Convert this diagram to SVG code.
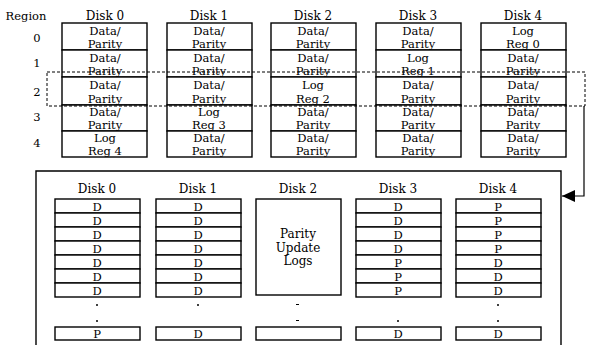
<svg xmlns="http://www.w3.org/2000/svg" width="589" height="345" viewBox="0 0 589 345" font-family="'DejaVu Serif','Liberation Serif',serif">
<defs>
<style>
text{font-family:'DejaVu Serif','Liberation Serif',serif;fill:#000;text-anchor:middle}
.t{font-size:12px}
.c{font-size:11.5px}
.s{font-size:11.5px}
.cell{fill:#fff;stroke:#000;stroke-width:1.4}
.box{fill:none;stroke:#000;stroke-width:1.4}
.dash{fill:none;stroke:#000;stroke-width:1;stroke-dasharray:3 2}
.conn{fill:none;stroke:#000;stroke-width:1.2}
</style>
<marker id="ah" markerWidth="14" markerHeight="12" refX="13" refY="6" orient="auto" markerUnits="userSpaceOnUse">
<path d="M0,0 L13,6 L0,12 Z" fill="#000"/>
</marker>
</defs>
<rect width="589" height="345" fill="#fff"/>

<g id="labels">
<text x="26" y="20" class="s">Region</text>
<text x="37" y="42" class="s">0</text>
<text x="37" y="67" class="s">1</text>
<text x="37" y="96" class="s">2</text>
<text x="37" y="121" class="s">3</text>
<text x="37" y="147" class="s">4</text>
</g>

<g id="top-disk0">
<text x="105" y="20" class="t">Disk 0</text>
<rect class="cell" x="62" y="23" width="85" height="27"/>
<rect class="cell" x="62" y="50" width="85" height="27"/>
<rect class="cell" x="62" y="77" width="85" height="28"/>
<rect class="cell" x="62" y="105" width="85" height="26"/>
<rect class="cell" x="62" y="131" width="85" height="26"/>
<text x="105" y="35" class="c">Data/</text><text x="105" y="48" class="c">Parity</text>
<text x="105" y="62" class="c">Data/</text><text x="105" y="75" class="c">Parity</text>
<text x="105" y="89" class="c">Data/</text><text x="105" y="103" class="c">Parity</text>
<text x="105" y="116" class="c">Data/</text><text x="105" y="129" class="c">Parity</text>
<text x="105" y="142" class="c">Log</text><text x="105" y="155" class="c">Reg 4</text>
</g>

<g id="top-disk1">
<text x="209" y="20" class="t">Disk 1</text>
<rect class="cell" x="167" y="23" width="85" height="27"/>
<rect class="cell" x="167" y="50" width="85" height="27"/>
<rect class="cell" x="167" y="77" width="85" height="28"/>
<rect class="cell" x="167" y="105" width="85" height="26"/>
<rect class="cell" x="167" y="131" width="85" height="26"/>
<text x="209" y="35" class="c">Data/</text><text x="209" y="48" class="c">Parity</text>
<text x="209" y="62" class="c">Data/</text><text x="209" y="75" class="c">Parity</text>
<text x="209" y="89" class="c">Data/</text><text x="209" y="103" class="c">Parity</text>
<text x="209" y="116" class="c">Log</text><text x="209" y="129" class="c">Reg 3</text>
<text x="209" y="142" class="c">Data/</text><text x="209" y="155" class="c">Parity</text>
</g>

<g id="top-disk2">
<text x="313" y="20" class="t">Disk 2</text>
<rect class="cell" x="271" y="23" width="85" height="27"/>
<rect class="cell" x="271" y="50" width="85" height="27"/>
<rect class="cell" x="271" y="77" width="85" height="28"/>
<rect class="cell" x="271" y="105" width="85" height="26"/>
<rect class="cell" x="271" y="131" width="85" height="26"/>
<text x="313" y="35" class="c">Data/</text><text x="313" y="48" class="c">Parity</text>
<text x="313" y="62" class="c">Data/</text><text x="313" y="75" class="c">Parity</text>
<text x="313" y="89" class="c">Log</text><text x="313" y="103" class="c">Reg 2</text>
<text x="313" y="116" class="c">Data/</text><text x="313" y="129" class="c">Parity</text>
<text x="313" y="142" class="c">Data/</text><text x="313" y="155" class="c">Parity</text>
</g>

<g id="top-disk3">
<text x="418" y="20" class="t">Disk 3</text>
<rect class="cell" x="376" y="23" width="85" height="27"/>
<rect class="cell" x="376" y="50" width="85" height="27"/>
<rect class="cell" x="376" y="77" width="85" height="28"/>
<rect class="cell" x="376" y="105" width="85" height="26"/>
<rect class="cell" x="376" y="131" width="85" height="26"/>
<text x="418" y="35" class="c">Data/</text><text x="418" y="48" class="c">Parity</text>
<text x="418" y="62" class="c">Log</text><text x="418" y="75" class="c">Reg 1</text>
<text x="418" y="89" class="c">Data/</text><text x="418" y="103" class="c">Parity</text>
<text x="418" y="116" class="c">Data/</text><text x="418" y="129" class="c">Parity</text>
<text x="418" y="142" class="c">Data/</text><text x="418" y="155" class="c">Parity</text>
</g>

<g id="top-disk4">
<text x="523" y="20" class="t">Disk 4</text>
<rect class="cell" x="481" y="23" width="85" height="27"/>
<rect class="cell" x="481" y="50" width="85" height="27"/>
<rect class="cell" x="481" y="77" width="85" height="28"/>
<rect class="cell" x="481" y="105" width="85" height="26"/>
<rect class="cell" x="481" y="131" width="85" height="26"/>
<text x="523" y="35" class="c">Log</text><text x="523" y="48" class="c">Reg 0</text>
<text x="523" y="62" class="c">Data/</text><text x="523" y="75" class="c">Parity</text>
<text x="523" y="89" class="c">Data/</text><text x="523" y="103" class="c">Parity</text>
<text x="523" y="116" class="c">Data/</text><text x="523" y="129" class="c">Parity</text>
<text x="523" y="142" class="c">Data/</text><text x="523" y="155" class="c">Parity</text>
</g>

<g id="selection">
<rect class="dash" x="47" y="72" width="538" height="34"/>
</g>

<g id="bottom-frame">
<path class="box" d="M36,350 L36,171 L561,171 L561,350"/>
</g>

<g id="bottom-disk0">
<text x="97" y="193" class="t">Disk 0</text>
<rect class="cell" x="55" y="199" width="85" height="14"/>
<rect class="cell" x="55" y="213" width="85" height="14"/>
<rect class="cell" x="55" y="227" width="85" height="14"/>
<rect class="cell" x="55" y="241" width="85" height="14"/>
<rect class="cell" x="55" y="255" width="85" height="14"/>
<rect class="cell" x="55" y="269" width="85" height="14"/>
<rect class="cell" x="55" y="283" width="85" height="14"/>
<text x="97" y="211" class="c">D</text><text x="97" y="225" class="c">D</text><text x="97" y="239" class="c">D</text><text x="97" y="253" class="c">D</text><text x="97" y="267" class="c">D</text><text x="97" y="281" class="c">D</text><text x="97" y="295" class="c">D</text>
<circle cx="97" cy="305" r="1"/><circle cx="97" cy="321" r="1"/>
<rect class="cell" x="55" y="327" width="85" height="13"/>
<text x="97" y="338" class="c">P</text>
</g>

<g id="bottom-disk1">
<text x="198" y="193" class="t">Disk 1</text>
<rect class="cell" x="156" y="199" width="85" height="14"/>
<rect class="cell" x="156" y="213" width="85" height="14"/>
<rect class="cell" x="156" y="227" width="85" height="14"/>
<rect class="cell" x="156" y="241" width="85" height="14"/>
<rect class="cell" x="156" y="255" width="85" height="14"/>
<rect class="cell" x="156" y="269" width="85" height="14"/>
<rect class="cell" x="156" y="283" width="85" height="14"/>
<text x="198" y="211" class="c">D</text><text x="198" y="225" class="c">D</text><text x="198" y="239" class="c">D</text><text x="198" y="253" class="c">D</text><text x="198" y="267" class="c">D</text><text x="198" y="281" class="c">D</text><text x="198" y="295" class="c">D</text>
<circle cx="198" cy="305" r="1"/>
<rect class="cell" x="156" y="327" width="85" height="13"/>
<text x="198" y="338" class="c">D</text>
</g>

<g id="bottom-disk2">
<text x="298" y="193" class="t">Disk 2</text>
<rect class="cell" x="256" y="199" width="85" height="96"/>
<text x="298" y="238" class="t">Parity</text>
<text x="298" y="252" class="t">Update</text>
<text x="298" y="265" class="t">Logs</text>
<rect x="296" y="304" width="3" height="1"/><rect x="296" y="320" width="3" height="1"/>
<rect class="cell" x="256" y="327" width="85" height="13"/>
</g>

<g id="bottom-disk3">
<text x="398" y="193" class="t">Disk 3</text>
<rect class="cell" x="356" y="199" width="85" height="14"/>
<rect class="cell" x="356" y="213" width="85" height="14"/>
<rect class="cell" x="356" y="227" width="85" height="14"/>
<rect class="cell" x="356" y="241" width="85" height="14"/>
<rect class="cell" x="356" y="255" width="85" height="14"/>
<rect class="cell" x="356" y="269" width="85" height="14"/>
<rect class="cell" x="356" y="283" width="85" height="14"/>
<text x="398" y="211" class="c">D</text><text x="398" y="225" class="c">D</text><text x="398" y="239" class="c">D</text><text x="398" y="253" class="c">D</text><text x="398" y="267" class="c">P</text><text x="398" y="281" class="c">P</text><text x="398" y="295" class="c">P</text>
<circle cx="398" cy="321" r="1"/>
<rect class="cell" x="356" y="327" width="85" height="13"/>
<text x="398" y="338" class="c">D</text>
</g>

<g id="bottom-disk4">
<text x="498" y="193" class="t">Disk 4</text>
<rect class="cell" x="456" y="199" width="85" height="14"/>
<rect class="cell" x="456" y="213" width="85" height="14"/>
<rect class="cell" x="456" y="227" width="85" height="14"/>
<rect class="cell" x="456" y="241" width="85" height="14"/>
<rect class="cell" x="456" y="255" width="85" height="14"/>
<rect class="cell" x="456" y="269" width="85" height="14"/>
<rect class="cell" x="456" y="283" width="85" height="14"/>
<text x="498" y="211" class="c">P</text><text x="498" y="225" class="c">P</text><text x="498" y="239" class="c">P</text><text x="498" y="253" class="c">P</text><text x="498" y="267" class="c">D</text><text x="498" y="281" class="c">D</text><text x="498" y="295" class="c">D</text>
<circle cx="498" cy="305" r="1"/><circle cx="498" cy="321" r="1"/>
<rect class="cell" x="456" y="327" width="85" height="13"/>
<text x="498" y="338" class="c">D</text>
</g>

<g id="connectors">
<path class="conn" d="M584,106 L584,196 L562,196" marker-end="url(#ah)"/>
</g>
</svg>
